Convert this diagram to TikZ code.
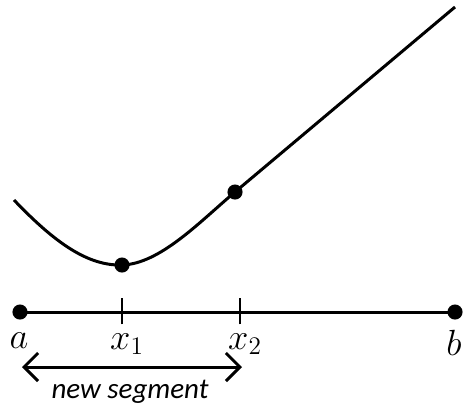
\documentclass[tikz,border=0pt]{standalone}
\usepackage{fontspec}
\newfontfamily\lblfont{Carlito}
\usetikzlibrary{positioning,arrows.meta}
\tikzset{
  dot/.style={circle, fill=black, inner sep=0pt, minimum size=8.6pt},
  curve/.style={line width=1.7pt, draw=black},
  axis/.style={line width=1.7pt, draw=black},
  tick/.style={line width=1.4pt, draw=black},
  mlbl/.style={font=\fontsize{21}{24}\selectfont, inner sep=0pt},
  span/.style={{Straight Barb[length=2.8mm,width=5.6mm]}-{Straight Barb[length=2.8mm,width=5.6mm]}, line width=1.7pt},
  seg/.style={font=\lblfont\itshape\fontsize{16.5}{18}\selectfont, inner sep=0pt},
}
\begin{document}
\begin{tikzpicture}[x=0.02cm, y=-0.02cm]
  \useasboundingbox (0,0) rectangle (463,410);

  % the function
  \node[dot] (m1) at (122,265) {};
  \node[dot] (m2) at (235,192) {};
  \coordinate (start) at (14,200);
  \coordinate (stop) at (455,7);
  \draw[curve] (start) .. controls (55,243) and (88,266) .. (m1.center)
    .. controls (160,264) and (200,221.5) .. (m2.center) -- (stop);

  % the interval
  \node[dot] (a) at (20,312) {};
  \node[dot] (b) at (455,312) {};
  \coordinate (t1) at (122,312);
  \coordinate (t2) at (240,312);
  \draw[axis] (a.center) -- (b.center);
  \draw[tick] ([yshift=-7]t1) -- ([yshift=8]t1);
  \draw[tick] ([yshift=-7]t2) -- ([yshift=8]t2);

  \node[mlbl] (la) at (19,341) {$a$};
  \node[mlbl] (l1) at (127,344) {$x_1$};
  \node[mlbl] (l2) at (245,344) {$x_2$};
  \node[mlbl] (lb) at (454,343) {$b$};

  \coordinate (s1) at (22,367);
  \coordinate (s2) at (242,367);
  \draw[span] (s1) -- (s2);
  \node[seg] (nseg) at (130,392) {new segment};
\end{tikzpicture}
\end{document}
